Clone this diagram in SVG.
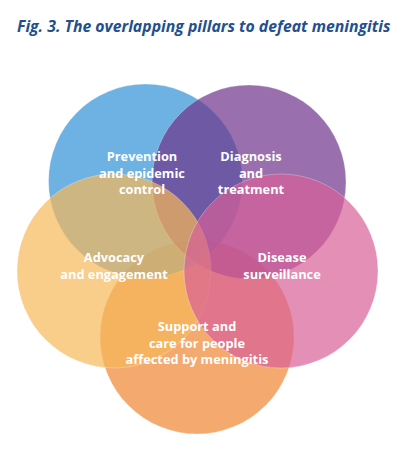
<svg xmlns="http://www.w3.org/2000/svg" width="400" height="474" viewBox="0 0 400 474">
<style>
.c{fill-opacity:0.7;stroke:#ffffff;stroke-opacity:0.35;stroke-width:0.8}
.t{font-family:"Open Sans","Noto Sans","DejaVu Sans",sans-serif;font-weight:700;font-size:12.8px;fill:#ffffff;text-anchor:middle}
.title{font-family:"Open Sans","Noto Sans","DejaVu Sans",sans-serif;font-weight:700;font-style:italic;font-size:15.8px;fill:#234f8e}
</style>
<rect width="400" height="474" fill="#ffffff"/>
<text class="title" x="17" y="32">Fig. 3. The overlapping pillars to defeat meningitis</text>
<g id="support"><circle class="c" cx="197" cy="337" r="97" fill="#ef8430"/></g>
<g id="prevention"><circle class="c" cx="145.5" cy="181" r="97" fill="#3192d7"/></g>
<g id="diagnosis"><circle class="c" cx="249" cy="182" r="97" fill="#6d338a"/></g>
<g id="advocacy"><circle class="c" cx="114" cy="271" r="97" fill="#f6b858"/></g>
<g id="surveillance"><circle class="c" cx="281" cy="271" r="97" fill="#d75f97"/></g>
<g id="connectors"></g>
<g id="labels">
<text class="t" x="142" y="161">Prevention</text>
<text class="t" x="142" y="177.5">and epidemic</text>
<text class="t" x="142" y="194">control</text>
<text class="t" x="251" y="161">Diagnosis</text>
<text class="t" x="251" y="177.5">and</text>
<text class="t" x="251" y="194">treatment</text>
<text class="t" x="114" y="262">Advocacy</text>
<text class="t" x="114" y="279">and engagement</text>
<text class="t" x="282" y="262">Disease</text>
<text class="t" x="282" y="279">surveillance</text>
<text class="t" x="197" y="331">Support and</text>
<text class="t" x="197" y="347.5">care for people</text>
<text class="t" x="197" y="364">affected by meningitis</text>
</g>
</svg>
